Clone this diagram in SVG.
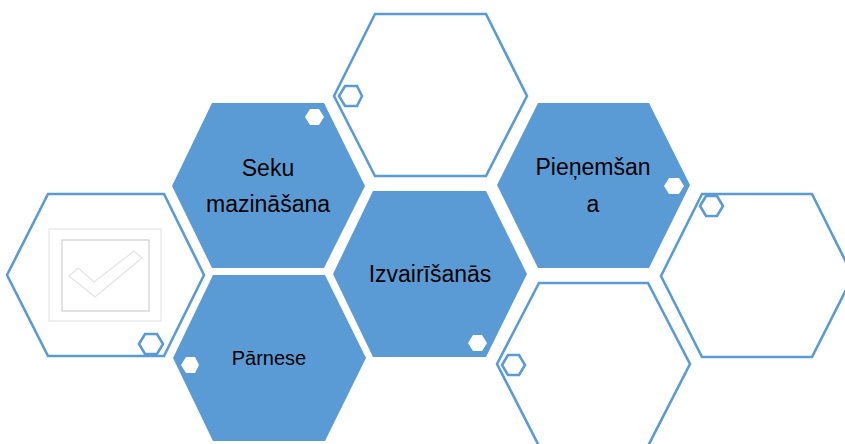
<svg xmlns="http://www.w3.org/2000/svg" width="845" height="444" viewBox="0 0 845 444">
  <style>
    .solid { fill: #5b9bd5; stroke: none; }
    .ring { fill: #ffffff; stroke: #5b9bd5; stroke-width: 2.6; stroke-linejoin: miter; }
    .dot { fill: #ffffff; stroke: none; }
    .dotring { fill: none; stroke: #5b9bd5; stroke-width: 2.6; }
    .lbl { font-family: "Liberation Sans", Arial, sans-serif; fill: #000000; text-anchor: middle; font-size: 23px; }
  </style>
  <rect width="845" height="444" fill="#ffffff"/>

  <!-- outline hexagon, left, with checkbox icon -->
  <g id="hex-left">
    <polygon class="ring" points="7,275 48,194 164,194 204,275 164,356 48,356"/>
    <rect x="49" y="229" width="112" height="92" fill="#ffffff" stroke="#e6e6e6" stroke-width="1.2"/>
    <rect x="62" y="240" width="87" height="71" fill="none" stroke="#cfcfcf" stroke-width="1.2"/>
    <polygon points="69,276 78,268 94,282 134,251 142,258 95,297" fill="none" stroke="#e4e4e4" stroke-width="1.2"/>
    <polygon class="dotring" points="139,344 145,334 157,334 163,344 157,354 145,354"/>
  </g>

  <!-- filled hexagon: Seku mazināšana -->
  <g id="hex-seku">
    <polygon class="solid" points="172,186 212,103 324,103 365,186 324,268 212,268"/>
    <polygon class="dot" points="305,117 310,109 319,109 324,117 319,125 310,125"/>
    <text class="lbl" x="268" y="176">Seku</text>
    <text class="lbl" x="268" y="212">mazināšana</text>
  </g>

  <!-- outline hexagon, top -->
  <g id="hex-top">
    <polygon class="ring" points="334,96 375,14 486,14 527,96 486,176 375,176"/>
    <polygon class="dotring" points="339,96 345,86 357,86 362,96 357,106 345,106"/>
  </g>

  <!-- filled hexagon: Pieņemšana -->
  <g id="hex-pienemsana">
    <polygon class="solid" points="497,185 538,103 649,103 690,185 649,268 538,268"/>
    <polygon class="dot" points="664,186 669,178 679,178 684,186 679,194 669,194"/>
    <text class="lbl" x="593" y="175">Pieņemšan</text>
    <text class="lbl" x="593" y="212">a</text>
  </g>

  <!-- outline hexagon, right edge -->
  <g id="hex-right">
    <polygon class="ring" points="661,276 702,194 812,194 853,276 812,357 702,357"/>
    <polygon class="dotring" points="700,206 706,196 717,196 723,206 717,216 706,216"/>
  </g>

  <!-- filled hexagon: Izvairīšanās -->
  <g id="hex-izvairisanas">
    <polygon class="solid" points="333,274 373,191 486,191 527,274 486,357 373,357"/>
    <polygon class="dot" points="468,343 473,335 482,335 487,343 482,351 473,351"/>
    <text class="lbl" x="430" y="282">Izvairīšanās</text>
  </g>

  <!-- filled hexagon: Pārnese -->
  <g id="hex-parnese">
    <polygon class="solid" points="173,358 213,275 325,275 366,358 325,441 213,441"/>
    <polygon class="dot" points="181,365 186,357 195,357 199,365 195,373 186,373"/>
    <text class="lbl" x="269" y="365" style="font-size:20px">Pārnese</text>
  </g>

  <!-- outline hexagon, bottom right -->
  <g id="hex-bottom-right">
    <polygon class="ring" points="497,364 539,283 648,283 690,364 648,446 539,446"/>
    <polygon class="dotring" points="502,365 508,355 519,355 525,365 519,375 508,375"/>
  </g>

  <g id="connectors"></g>
</svg>
